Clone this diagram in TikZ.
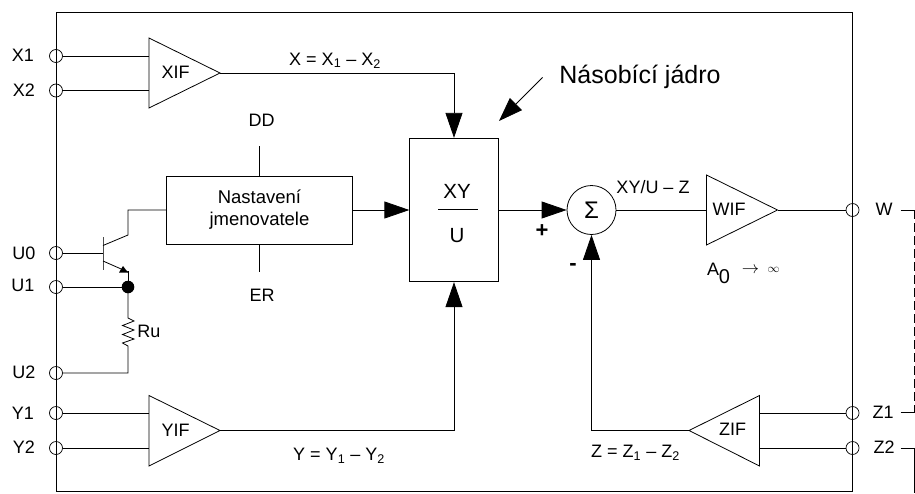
\documentclass[tikz,border=0pt]{standalone}
\usepackage{fontspec}
\setmainfont{Liberation Sans}
\usetikzlibrary{arrows.meta,calc}
\tikzset{
 x=1pt,y=-1pt,
 wire/.style={draw=black,line width=0.8pt},
 bigarrow/.style={-{Triangle[length=25pt,width=17pt]}},
 term/.style={circle,draw=black,line width=0.7pt,inner sep=0pt,minimum size=13pt},
 lab/.style={inner sep=0pt,font=\fontsize{18}{18}\selectfont},
 amp/.style={draw=black,line width=0.8pt}
}
\newcommand{\sbs}[1]{\textsubscript{#1}}
\begin{document}
\begin{tikzpicture}
\useasboundingbox (0,0) rectangle (915,493);
% main box
\draw[wire] (56,12) rectangle (852.5,491);
% terminals
\foreach \n/\xx/\yy in {tx1/56/56,tx2/56/90.5,tu0/56/253,tu1/56/287,tu2/56/373,ty1/56/413,ty2/56/448,tw/852.5/210,tz1/852.5/413,tz2/852.5/448}
  \node[term] (\n) at (\xx,\yy) {};
% terminal labels
\node[lab] (lx1) at (23,55) {X1};
\node[lab] (lx2) at (24,90) {X2};
\node[lab] (lu0) at (24,253) {U0};
\node[lab] (lu1) at (23,285) {U1};
\node[lab] (lu2) at (24,372.5) {U2};
\node[lab] (ly1) at (23,413) {Y1};
\node[lab] (ly2) at (24,447) {Y2};
\node[lab] (lw) at (884,209) {W};
\node[lab] (lz1) at (883,412) {Z1};
\node[lab] (lz2) at (884,447) {Z2};
% amplifiers
\draw[amp] (149,38) -- (220,73) -- (149,108) -- cycle;
\coordinate (xifo) at (220,73);
\node[lab] (xif) at (175.5,72) {XIF};
\draw[amp] (149,395.5) -- (220,430.5) -- (149,466) -- cycle;
\coordinate (yifo) at (220,430.5);
\node[lab] (yif) at (175.5,430) {YIF};
\draw[amp] (706.5,175) -- (777.5,210) -- (706.5,245) -- cycle;
\coordinate (wifo) at (777.5,210);
\coordinate (wifi) at (706.5,210);
\node[lab] (wif) at (729,209.5) {WIF};
\draw[amp] (759.5,395.5) -- (689,430.5) -- (759.5,466) -- cycle;
\coordinate (zifo) at (689,430.5);
\node[lab] (zif) at (732.5,429.5) {ZIF};
% inputs
\draw[wire] (tx1) -- (149,56);
\draw[wire] (tx2) -- (149,90.5);
\draw[wire] (ty1) -- (149,413);
\draw[wire] (ty2) -- (149,448);
\draw[wire] (tz1) -- (759.5,413);
\draw[wire] (tz2) -- (759.5,448);
\draw[wire] (wifo) -- (tw);
% blocks
\node[draw=black,line width=0.8pt,minimum width=88.5pt,minimum height=143.5pt,inner sep=0pt] (mul) at (454,210) {};
\node[lab,font=\fontsize{20.5}{20.5}\selectfont] (xy) at (457,191) {XY};
\node[lab,font=\fontsize{20.5}{20.5}\selectfont] (u) at (457,236) {U};
\coordinate (ba) at (438,209.5);
\coordinate (bb) at (478,209.5);
\draw[wire] (ba) -- (bb);
\node[draw=black,line width=0.8pt,minimum width=186pt,minimum height=68pt,inner sep=0pt,align=center,font=\fontsize{18.5}{22}\selectfont] (nas) at (259.5,210) {Nastavení\\jmenovatele};
\node[circle,draw=black,line width=0.8pt,minimum size=49pt,inner sep=0pt,font=\fontsize{24}{24}\selectfont] (sum) at (591.5,210) {Σ};
% arrows
\draw[wire,bigarrow] (xifo) -| (mul.north);
\draw[wire,bigarrow] (yifo) -| (mul.south);
\draw[wire,bigarrow] (nas.east) -- (mul.west);
\draw[wire,bigarrow] (mul.east) -- (sum.west);
\draw[wire] (sum.east) -- (wifi);
\draw[wire,bigarrow] (zifo) -| (sum.south);
% DD, ER
\coordinate (ddt) at (259.5,146);
\coordinate (ert) at (259.5,271.5);
\draw[wire] (ddt) -- (nas.north);
\draw[wire] (ert) -- (nas.south);
\node[lab] (dd) at (261.5,120.5) {DD};
\node[lab] (er) at (262,295) {ER};
% transistor
\coordinate (bt) at (103,237);
\coordinate (bb2) at (103,270);
\draw[line width=1pt,draw=black!70] (bt) -- (bb2);
\draw[wire] (tu0) -- (103,253);
\draw[wire] (103,245.5) -- (128,235) -- (128,210) -- (nas.west);
\draw[wire] (103,261) -- (128,272);
\fill (128,272.5) -- (119,272.5) -- (123,266) -- cycle;
\coordinate (jn) at (128,287);
\fill (jn) circle (6.3pt);
\draw[wire] (128,271) -- (jn);
\draw[wire] (tu1) -- (jn);
\draw[wire] (jn) -- (128,318) -- (134,321) -- (122.5,325.5) -- (134,330) -- (122.5,334.5) -- (134,339) -- (122.5,343) -- (128,346) -- (128,373) -- (tu2);
\node[lab] (ru) at (149,331) {Ru};
% labels
\node[lab] (xe) at (335,60.5) {X = X\sbs{1} – X\sbs{2}};
\node[lab] (ye) at (339,456) {Y = Y\sbs{1} – Y\sbs{2}};
\node[lab] (ze) at (635.5,453) {Z = Z\sbs{1} – Z\sbs{2}};
\node[lab] (xyz) at (653,187) {XY/U – Z};
\node[inner sep=0pt,font=\fontsize{25}{25}\selectfont] (nj) at (640,77) {Násobící jádro};
\coordinate (na) at (542.5,77.5);
\coordinate (nb) at (499,121);
\draw[wire,-{Triangle[length=24pt,width=17pt]}] (na) -- (nb);
\node[inner sep=0pt,font=\bfseries\fontsize{22}{22}\selectfont] (plus) at (542,231.5) {+};
\node[inner sep=0pt,font=\bfseries\fontsize{22}{22}\selectfont] (minus) at (573,267) {-};
\node[lab,anchor=west] (a0) at (707,269) {A};
\node[inner sep=0pt,font=\fontsize{20}{20}\selectfont] (a0s) at (724.5,277) {0};
\node[inner sep=0pt,font=\fontsize{17}{17}\selectfont] (arr) at (750.5,270) {$\rightarrow$};
\node[inner sep=0pt,font=\fontsize{13}{13}\selectfont] (inf) at (773.5,270) {$\infty$};
% outside
\coordinate (wa) at (900.5,210);\coordinate (wb) at (914,210);
\coordinate (za) at (900.5,412.5);\coordinate (zb) at (914,412.5);
\coordinate (z2a) at (900.5,448);\coordinate (z2b) at (914,448);\coordinate (z2c) at (914,493);
\draw[wire] (wa) -- (wb);
\draw[wire] (za) -- (zb);
\draw[wire,dash pattern=on 9pt off 4pt] (wb) -- (zb);
\draw[wire] (z2a) -- (z2b) -- (z2c);
\end{tikzpicture}
\end{document}
